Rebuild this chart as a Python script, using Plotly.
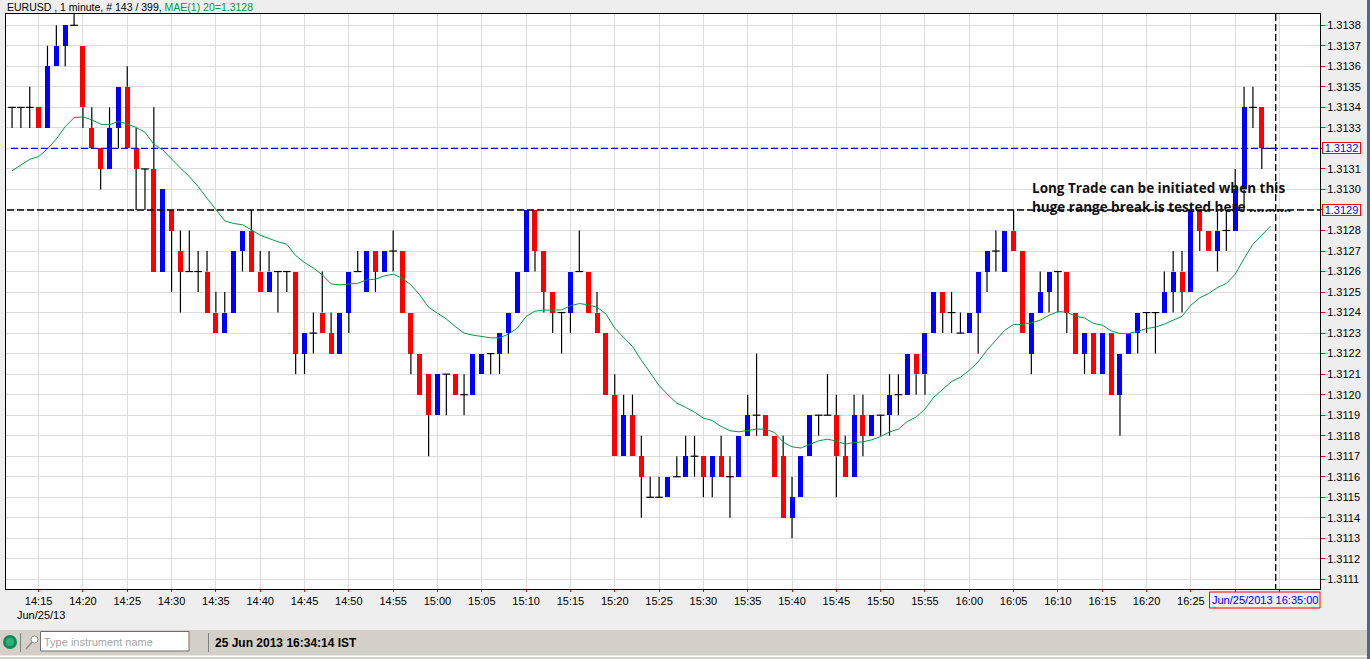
import pandas as pd
import plotly.graph_objects as go

# EURUSD 1 minute, prices kept as pips above 1.3100
BASE = 1.31
PIP = 0.0001

open_pips = [34, 34, 34, 34, 33, 36, 37, 38, 37, 33,
             32, 31, 33, 35, 32, 31, 31, 26, 29, 27,
             26, 26, 26, 24, 23, 24, 27, 28, 26, 25,
             26, 26, 26, 22, 23, 24, 23, 22, 24, 26,
             25, 27, 26, 27, 27, 24, 22, 21, 19, 21,
             21, 20, 20, 21, 22, 22, 23, 24, 26, 29,
             27, 25, 24, 24, 26, 26, 24, 23, 20, 17,
             19, 17, 15, 15, 15, 16, 16, 17, 17, 16,
             17, 16, 16, 18, 19, 19, 18, 17, 14, 15,
             17, 19, 19, 19, 17, 16, 19, 18, 19, 19,
             20, 20, 22, 21, 23, 25, 24, 23, 23, 24,
             26, 27, 26, 28, 27, 22, 24, 25, 26, 26,
             24, 22, 23, 21, 23, 20, 22, 23, 24, 24,
             24, 25, 26, 25, 29, 28, 27, 28, 28, 30,
             34, 34, 32]
high_pips = [34, 34, 35, 34, 37, 38, 38, 39, 37, 34,
             32, 34, 35, 36, 33, 31, 34, 30, 29, 28,
             28, 27, 27, 25, 25, 27, 28, 29, 27, 27,
             26, 26, 26, 23, 24, 26, 24, 24, 26, 27,
             27, 27, 27, 28, 27, 24, 22, 21, 21, 21,
             21, 21, 22, 22, 22, 23, 24, 26, 29, 29,
             27, 25, 24, 26, 28, 26, 25, 23, 21, 20,
             20, 18, 16, 16, 16, 17, 18, 18, 17, 17,
             18, 17, 18, 20, 22, 19, 18, 18, 16, 17,
             19, 19, 21, 20, 18, 20, 20, 19, 19, 21,
             21, 22, 22, 23, 25, 25, 25, 24, 24, 26,
             27, 28, 28, 29, 27, 24, 26, 26, 26, 26,
             24, 23, 23, 23, 23, 22, 23, 24, 24, 24,
             26, 27, 27, 29, 29, 28, 29, 29, 31, 35,
             35, 34, 32]
low_pips = [33, 33, 33, 33, 33, 36, 36, 38, 33, 32,
            30, 31, 32, 32, 29, 29, 26, 26, 25, 24,
            26, 25, 24, 23, 23, 24, 26, 26, 25, 25,
            24, 25, 21, 21, 22, 23, 22, 22, 23, 26,
            25, 25, 26, 26, 24, 21, 20, 17, 19, 19,
            20, 19, 20, 21, 21, 21, 22, 24, 26, 26,
            24, 23, 22, 23, 26, 24, 23, 20, 17, 17,
            17, 14, 15, 15, 15, 16, 16, 16, 15, 15,
            16, 14, 16, 18, 18, 18, 16, 14, 13, 15,
            17, 18, 19, 15, 16, 16, 17, 18, 18, 18,
            19, 20, 20, 20, 23, 23, 23, 23, 23, 22,
            25, 26, 26, 27, 23, 21, 24, 24, 24, 23,
            22, 21, 21, 21, 20, 18, 22, 22, 23, 22,
            24, 24, 24, 25, 27, 27, 26, 27, 28, 29,
            33, 31, 32]
close_pips = [34, 34, 34, 33, 36, 37, 38, 38, 34, 32,
              31, 33, 35, 32, 31, 31, 26, 30, 28, 26,
              26, 26, 24, 23, 24, 27, 28, 26, 25, 26,
              26, 26, 22, 23, 23, 23, 22, 24, 26, 26,
              27, 26, 27, 27, 24, 22, 20, 19, 21, 21,
              20, 20, 22, 22, 22, 23, 24, 26, 29, 27,
              25, 24, 24, 26, 26, 24, 23, 20, 17, 19,
              17, 16, 15, 15, 16, 16, 17, 17, 16, 17,
              16, 16, 18, 19, 19, 18, 16, 14, 15, 17,
              19, 19, 19, 17, 16, 19, 18, 19, 19, 20,
              20, 22, 21, 23, 25, 24, 24, 23, 24, 26,
              27, 27, 28, 27, 23, 24, 25, 26, 26, 24,
              22, 23, 21, 23, 20, 22, 23, 24, 24, 24,
              25, 26, 25, 29, 28, 27, 28, 28, 30, 34,
              34, 32, 32]
mae_pips = [30.91, 31.20, 31.47, 31.60, 31.98, 32.46, 33.06, 33.50, 33.54, 33.39,
            33.18, 33.15, 33.32, 33.19, 33.02, 32.79, 32.20, 31.93, 31.47, 31.04,
            30.63, 30.14, 29.57, 29.01, 28.47, 28.34, 28.28, 28.03, 27.77, 27.61,
            27.45, 27.33, 26.78, 26.44, 26.17, 25.84, 25.40, 25.35, 25.38, 25.43,
            25.59, 25.63, 25.79, 25.87, 25.68, 25.35, 24.86, 24.26, 23.97, 23.69,
            23.32, 23.00, 22.90, 22.83, 22.77, 22.77, 22.95, 23.24, 23.81, 24.07,
            24.12, 24.12, 24.13, 24.33, 24.44, 24.38, 24.26, 23.94, 23.24, 22.79,
            22.35, 21.68, 21.05, 20.45, 19.99, 19.59, 19.38, 19.15, 18.86, 18.74,
            18.45, 18.24, 18.19, 18.27, 18.32, 18.32, 18.16, 17.69, 17.46, 17.40,
            17.59, 17.75, 17.83, 17.74, 17.59, 17.67, 17.70, 17.80, 17.96, 18.18,
            18.32, 18.69, 18.91, 19.30, 19.88, 20.27, 20.64, 20.85, 21.19, 21.60,
            22.17, 22.66, 23.14, 23.42, 23.42, 23.50, 23.63, 23.87, 24.05, 24.02,
            23.82, 23.74, 23.47, 23.39, 23.11, 22.98, 22.98, 23.09, 23.22, 23.29,
            23.44, 23.63, 23.82, 24.36, 24.72, 24.93, 25.22, 25.42, 25.87, 26.63,
            27.33, 27.77, 28.22]

x_ticks = ["14:15", "14:20", "14:25", "14:30", "14:35", "14:40", "14:45", "14:50", "14:55",
           "15:00", "15:05", "15:10", "15:15", "15:20", "15:25", "15:30", "15:35", "15:40",
           "15:45", "15:50", "15:55", "16:00", "16:05", "16:10", "16:15", "16:20", "16:25",
           "16:30", "16:35"]
x_hidden = ["16:30", "16:35"]
y_ticks = ["1.3138", "1.3137", "1.3136", "1.3135", "1.3134", "1.3133", "1.3132", "1.3131",
           "1.3130", "1.3129", "1.3128", "1.3127", "1.3126", "1.3125", "1.3124", "1.3123",
           "1.3122", "1.3121", "1.3120", "1.3119", "1.3118", "1.3117", "1.3116", "1.3115",
           "1.3114", "1.3113", "1.3112", "1.3111"]
y_boxed = ["1.3132", "1.3129"]


def price(p):
    return round(BASE + p * PIP, 6)


times = pd.date_range("2013-06-25 14:12", periods=len(open_pips), freq="min")
to_stamp = lambda s: pd.Timestamp("2013-06-25 " + s)

# figure pixels -> paper coordinates
W, H = 1370, 659
ML, MR, MT, MB = 6, 50, 14, 70
PW, PH = W - ML - MR, H - MT - MB
fx = lambda px: (px - ML) / PW
fy = lambda py: 1 - (py - MT) / PH

FONT = "Liberation Sans, Arial, sans-serif"
BLUE, RED = "#0000FF", "#FF0000"

# wicks stop at the body so they do not run over it
wick_x, wick_y = [], []
for t, o, h, l, c in zip(times, open_pips, high_pips, low_pips, close_pips):
    top, bot = max(o, c), min(o, c)
    if h > top:
        wick_x += [t, t, None]
        wick_y += [price(top), price(h), None]
    if l < bot:
        wick_x += [t, t, None]
        wick_y += [price(bot), price(l), None]

up = [i for i in range(len(times)) if close_pips[i] > open_pips[i]]
down = [i for i in range(len(times)) if close_pips[i] < open_pips[i]]
flat = [i for i in range(len(times)) if close_pips[i] == open_pips[i]]
BODY_MS = 34000

fig = go.Figure()
for idx, col in ((up, BLUE), (down, RED)):
    fig.add_trace(go.Bar(
        x=times[idx],
        y=[abs(close_pips[i] - open_pips[i]) * PIP for i in idx],
        base=[price(min(open_pips[i], close_pips[i])) for i in idx],
        width=BODY_MS,
        marker=dict(color=col, line=dict(width=0)),
        showlegend=False,
    ))
fig.add_trace(go.Scatter(x=wick_x, y=wick_y, mode="lines",
                         line=dict(color="black", width=1.2), showlegend=False))
fig.add_trace(go.Scatter(x=times[flat], y=[price(close_pips[i]) for i in flat], mode="markers",
                         marker=dict(symbol="line-ew", size=5.5, line=dict(color="black", width=1.2)),
                         showlegend=False))
fig.add_trace(go.Scatter(x=times, y=[price(v) for v in mae_pips], mode="lines",
                         line=dict(color="#009A44", width=1), showlegend=False))

shapes = [
    dict(type="line", xref="paper", yref="y", x0=fx(11), x1=fx(1320), y0=1.3132, y1=1.3132,
         line=dict(color=BLUE, width=1.2, dash="7px,3px")),
    dict(type="line", xref="paper", yref="y", x0=fx(7), x1=fx(1320), y0=1.3129, y1=1.3129,
         line=dict(color="black", width=1.3, dash="7px,3px")),
    dict(type="line", xref="paper", yref="paper", x0=fx(1275.7), x1=fx(1275.7), y0=fy(14), y1=fy(589),
         line=dict(color="black", width=1.3, dash="7px,3px")),
    # status bar along the bottom
    dict(type="rect", xref="paper", yref="paper", x0=fx(0), x1=fx(1370), y0=fy(630), y1=fy(659),
         fillcolor="#D4D0C8", line_width=0),
    dict(type="rect", xref="paper", yref="paper", x0=fx(0), x1=fx(1370), y0=fy(655.5), y1=fy(657),
         fillcolor="#FFFFFF", line_width=0),
    dict(type="rect", xref="paper", yref="paper", x0=fx(1367), x1=fx(1370), y0=fy(0), y1=fy(659),
         fillcolor="#3A6EA5", line_width=0),
    dict(type="circle", xref="paper", yref="paper", x0=fx(3), x1=fx(17), y0=fy(635), y1=fy(649),
         fillcolor="#14895A", line_width=0),
    dict(type="circle", xref="paper", yref="paper", x0=fx(6), x1=fx(14), y0=fy(638), y1=fy(646),
         fillcolor="#2FB27A", line_width=0),
    dict(type="line", xref="paper", yref="paper", x0=fx(20.5), x1=fx(20.5), y0=fy(633), y1=fy(652),
         line=dict(color="#808080", width=1)),
    dict(type="line", xref="paper", yref="paper", x0=fx(208.5), x1=fx(208.5), y0=fy(633), y1=fy(652),
         line=dict(color="#808080", width=1)),
    dict(type="circle", xref="paper", yref="paper", x0=fx(31), x1=fx(38), y0=fy(636), y1=fy(643),
         fillcolor="#FFFFFF", line=dict(color="#8C8C8C", width=1)),
    dict(type="line", xref="paper", yref="paper", x0=fx(26), x1=fx(32), y0=fy(649), y1=fy(642),
         line=dict(color="#8C8C8C", width=1.5)),
    dict(type="rect", xref="paper", yref="paper", x0=fx(40.5), x1=fx(189), y0=fy(631.5), y1=fy(651),
         fillcolor="#FFFFFF", line=dict(color="#6E6E6E", width=1)),
    dict(type="rect", xref="paper", yref="paper", x0=fx(1209.5), x1=fx(1320), y0=fy(592), y1=fy(608),
         fillcolor="rgba(0,0,0,0)", line=dict(color=RED, width=1)),
]


def note(text, px, py, size=11, color="black", anchor="left", family=FONT, **kw):
    return dict(text=text, xref="paper", yref="paper", x=fx(px), y=fy(py), xanchor=anchor, yanchor="middle",
                showarrow=False, font=dict(size=size, color=color, family=family), **kw)


annotations = [
    note('EURUSD , 1 minute, # 143 / 399, <span style="color:#009A44">MAE(1) 20=1.3128</span>', 5, 6.5, size=10.5),
    note("<b>Long Trade can be initiated when this</b>", 1030, 188, size=13.5, family="Open Sans, sans-serif", color="#111111"),
    note("<b>huge range break is tested here ...........</b>", 1030, 207, size=13.5, family="Open Sans, sans-serif", color="#111111"),
    note("Jun/25/13", 15, 615),
    note("Type instrument name", 42, 641.5, color="#A6A6A6"),
    note("<b>25 Jun 2013 16:34:14 IST</b>", 213, 643, size=12),
    note("Jun/25/2013 16:35:00", 1264.7, 600, color=BLUE, anchor="center"),
]
for label, py in zip(y_boxed, (148.5, 210.5)):
    annotations.append(note(label, 1341.5, py, color=BLUE, anchor="center", bgcolor="#FFFFFF",
                            bordercolor=RED, borderwidth=1, borderpad=0, width=37, height=10))

fig.update_layout(
    width=W, height=H,
    margin=dict(l=ML, r=MR, t=MT, b=MB, autoexpand=False),
    paper_bgcolor="#EEEEEE", plot_bgcolor="#FFFFFF",
    bargap=0, barmode="overlay", showlegend=False,
    font=dict(family=FONT, size=11, color="black"),
    shapes=shapes, annotations=annotations,
    xaxis=dict(
        type="date",
        range=[times[0] - pd.Timedelta(seconds=40.8), times[0] + pd.Timedelta(seconds=8854)],
        tickmode="array",
        tickvals=[to_stamp(s) for s in x_ticks],
        ticktext=["" if s in x_hidden else s for s in x_ticks],
        ticks="outside", ticklen=2, tickcolor=RED, tickwidth=1,
        showgrid=True, gridcolor="#DCDCDC", gridwidth=1, zeroline=False,
        showline=True, linecolor="black", linewidth=1, mirror=True,
        tickfont=dict(size=11, color="black"),
    ),
    yaxis=dict(
        side="right",
        range=[1.311053, 1.313855],
        tickmode="array",
        tickvals=[float(s) for s in y_ticks],
        ticktext=["" if s in y_boxed else s for s in y_ticks],
        ticks="outside", ticklen=4, tickcolor=RED, tickwidth=1,
        showgrid=True, gridcolor="#DCDCDC", gridwidth=1, zeroline=False,
        showline=True, linecolor="black", linewidth=1, mirror=True,
        tickfont=dict(size=11, color="black"),
    ),
)

fig.write_html("out.html", config=dict(displayModeBar=False),
               post_script="document.body.style.margin='0';document.body.style.overflow='hidden';")
